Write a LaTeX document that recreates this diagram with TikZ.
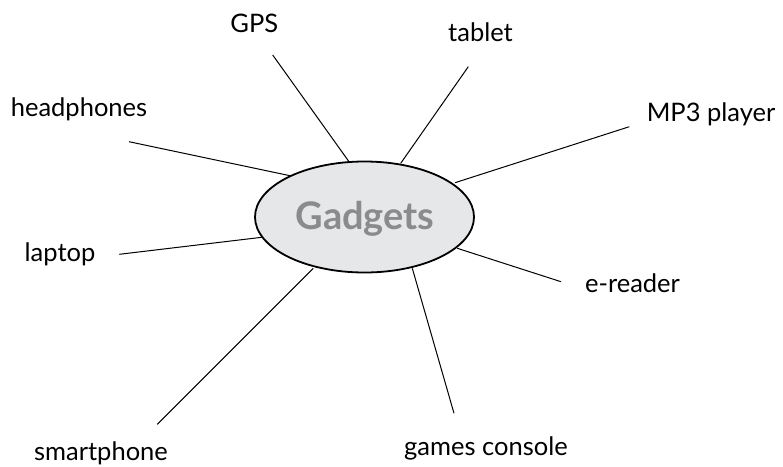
\documentclass[tikz,border=0pt]{standalone}
\usepackage{fontspec}
\setmainfont{Lato}
\usetikzlibrary{shapes.geometric}
\definecolor{ellfill}{HTML}{E6E7E8}
\definecolor{titlegray}{HTML}{8A8B8D}
\begin{document}
\begin{tikzpicture}[x=1pt,y=-1pt,
  lbl/.style={anchor=base,inner sep=0pt,font=\fontsize{25.5}{29}\selectfont},
  conn/.style={line width=1pt,black},
  hub/.style={ellipse,draw=black,line width=1.8pt,fill=ellfill,minimum width=219pt,minimum height=111pt,inner sep=0pt}]
\useasboundingbox (0,0) rectangle (783,466);
% connector ends
\coordinate (gpsO) at (272.7,55);   \coordinate (gpsI) at (349,161.7);
\coordinate (hpO) at (129,141.7);   \coordinate (hpI) at (290,175.7);
\coordinate (tabO) at (468.3,66.7); \coordinate (tabI) at (400.7,163.3);
\coordinate (mp3O) at (629.3,126.7);\coordinate (mp3I) at (455,182.7);
\coordinate (lapO) at (119.3,254.3);\coordinate (lapI) at (261.7,237.3);
\coordinate (spO) at (157.3,424.3); \coordinate (spI) at (313.3,268.3);
\coordinate (erO) at (561,281.7);   \coordinate (erI) at (457.3,248.3);
\coordinate (gcO) at (454,413.3);   \coordinate (gcI) at (412.3,268.3);
\foreach \n in {gps,hp,tab,mp3,lap,sp,er,gc}{
  \draw[conn] (\n O) -- (\n I);
}
\node[hub] (g) at (364.5,217) {};
\node[anchor=base,inner sep=0pt,text=titlegray,font=\fontsize{38}{41}\selectfont\bfseries] (gt) at (365,229) {Gadgets};
% labels
\node[lbl] (gps) at (254.3,32.7) {GPS};
\node[lbl] (hp) at (79,116.7) {headphones};
\node[lbl] (tab) at (480.5,41.7) {tablet};
\node[lbl] (mp3) at (711,121) {MP3 player};
\node[lbl] (lap) at (60,261.7) {laptop};
\node[lbl] (sp) at (101,460) {smartphone};
\node[lbl] (er) at (632.5,292.3) {e-reader};
\node[lbl] (gc) at (486,455) {games console};
\end{tikzpicture}
\end{document}
